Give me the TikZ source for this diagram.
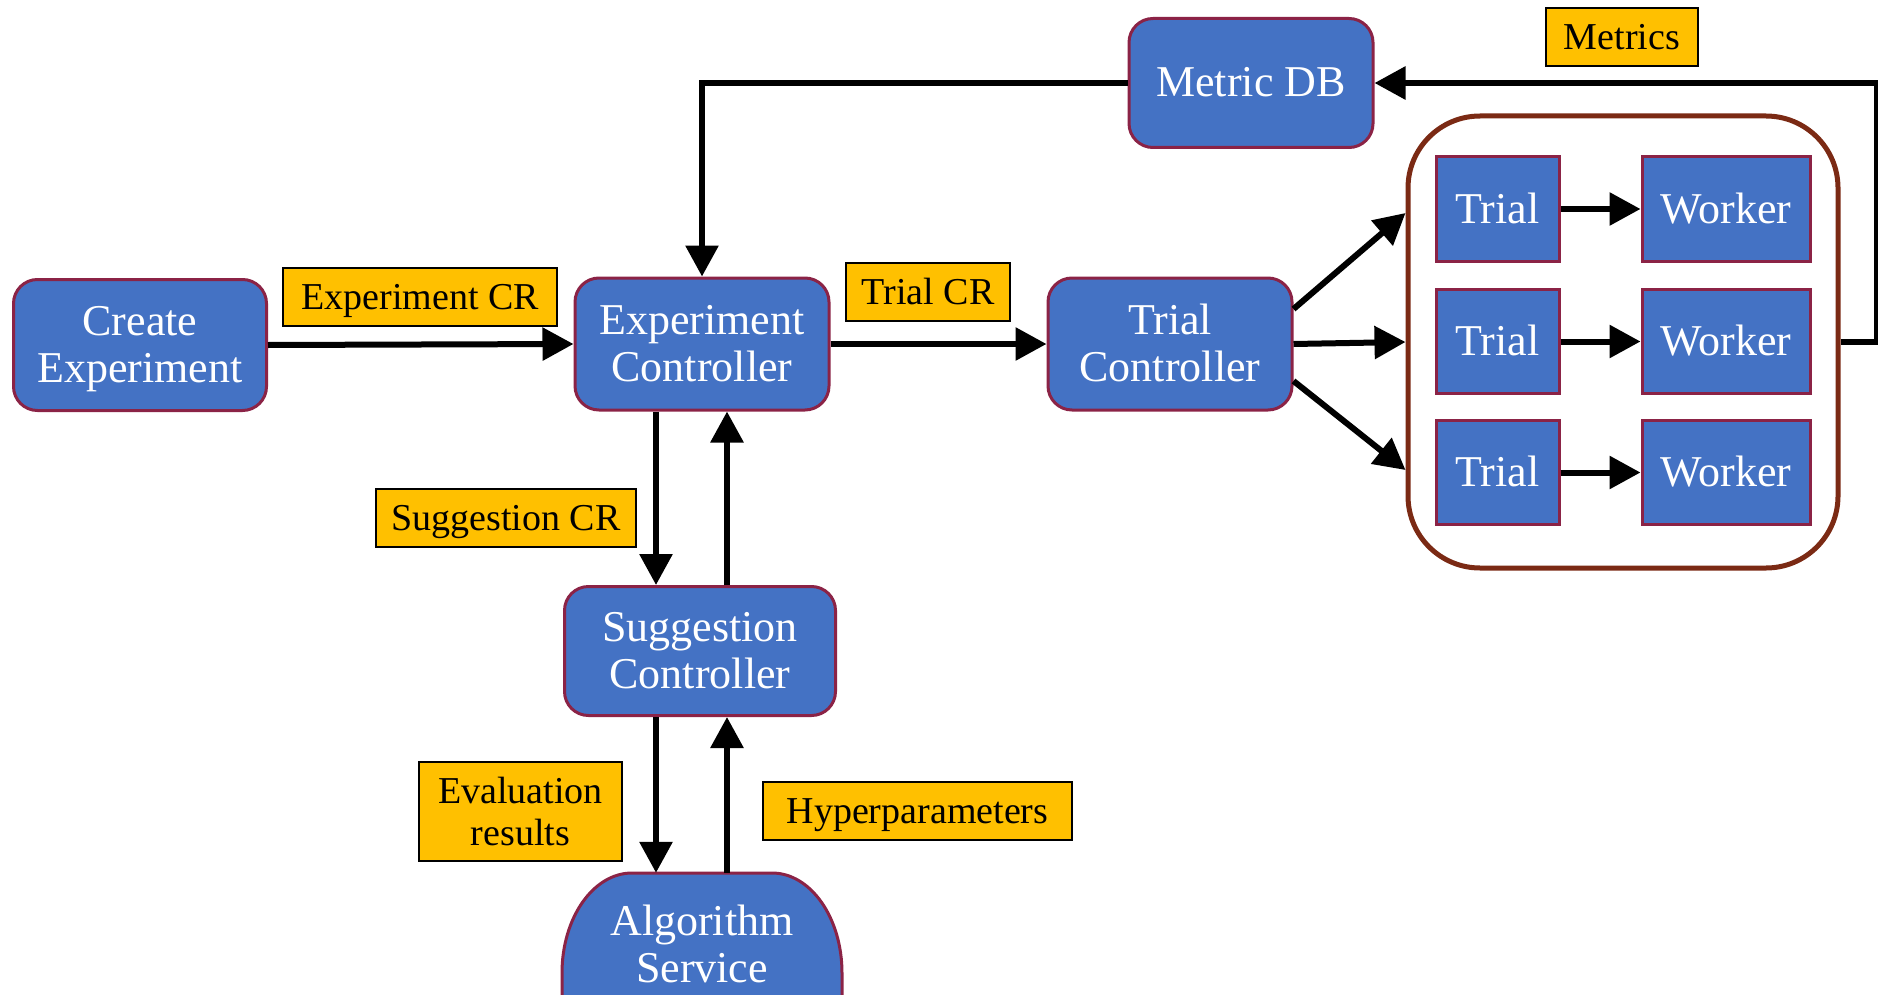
\documentclass[tikz,border=0pt]{standalone}
\usepackage{fontspec}
\setmainfont{Liberation Serif}
\usetikzlibrary{arrows.meta}
\definecolor{boxblue}{HTML}{4472C4}
\definecolor{boxedge}{HTML}{8B2346}
\definecolor{tagfill}{HTML}{FFC000}
\definecolor{pooledge}{HTML}{7B2A14}

\begin{document}
\begin{tikzpicture}[x=1pt,y=-1pt,
  % fixed text box heights keep every line centred the same way, descenders or not
  bigtext/.style={font=\fontsize{44}{47}\selectfont, text height=40pt, text depth=12pt},
  bigtwo/.style={text height=87pt},
  smalltext/.style={font=\fontsize{38}{42}\selectfont, text height=35pt, text depth=10pt},
  smalltwo/.style={text height=77pt},
  ctl/.style={draw=boxedge, line width=3pt, fill=boxblue, rounded corners=24pt,
    text=white, align=center, inner sep=0pt, bigtext},
  unit/.style={draw=boxedge, line width=3pt, fill=boxblue, text=white, inner sep=0pt,
    bigtext, minimum height=104pt},
  tag/.style={draw=black, line width=2pt, fill=tagfill, inner sep=0pt, align=center,
    smalltext, minimum height=58pt},
  arr/.style={line width=6pt, -{Triangle[length=31pt,width=32pt]}}
]
\useasboundingbox (0,0) rectangle (1878,995);
\clip (0,0) rectangle (1878,995);

% controllers
\node[ctl, bigtwo, minimum width=253pt, minimum height=131pt] (create) at (140,345) {Create\\Experiment};
\node[ctl, bigtwo, minimum width=254pt, minimum height=132pt] (expctl) at (702,344) {Experiment\\Controller};
\node[ctl, bigtwo, minimum width=244pt, minimum height=132pt] (trialctl) at (1170,344) {Trial\\Controller};
\node[ctl, minimum width=244pt, minimum height=129pt] (metricdb) at (1251,83) {Metric DB};
\node[ctl, bigtwo, minimum width=271pt, minimum height=129pt] (suggctl) at (700,651) {Suggestion\\Controller};

% algorithm service (runs off the lower edge)
\filldraw[fill=boxblue, draw=boxedge, line width=3pt]
  (562,1010) -- (562,973) arc[start angle=180,end angle=270,x radius=70,y radius=100]
  -- (772,873) arc[start angle=270,end angle=360,x radius=70,y radius=100]
  -- (842,1010) -- cycle;
\node[text=white, align=center, inner sep=0pt, bigtext, bigtwo,
  minimum width=280pt, minimum height=144pt] (algo) at (702,945) {Algorithm\\Service};

% trial / worker pool
\node[draw=pooledge, line width=5pt, rounded corners=72pt, minimum width=430pt,
  minimum height=452pt, inner sep=0pt] (pool) at (1623,342) {};
\foreach \i/\y in {1/209,2/341.5,3/472.5} {
  \node[unit, minimum width=123pt] (trial\i) at (1497.5,\y) {Trial};
  \node[unit, minimum width=168pt] (worker\i) at (1726,\y) {Worker};
  \draw[arr] (trial\i) -- (worker\i);
}

% labels
\node[tag, minimum width=274pt] (expcr) at (420,296.5) {Experiment CR};
\node[tag, minimum width=164pt] (trialcr) at (928,292) {Trial CR};
\node[tag, minimum width=152pt] (metrics) at (1622,37) {Metrics};
\node[tag, minimum width=260pt] (suggcr) at (506,518) {Suggestion CR};
\node[tag, smalltwo, minimum width=203pt, minimum height=99pt] (evalres) at (520.5,811.5) {Evaluation\\results};
\node[tag, minimum width=309pt] (hyper) at (917.5,811) {Hyperparameters};

% connectors
\draw[arr] (create.east) -- (expctl.west);
\draw[arr] (expctl.east) -- (trialctl.west);
\draw[arr] (metricdb.west) -| (expctl.north);
\draw[arr] (pool.east) -- ++(36,0) |- (metricdb.east);
\draw[arr] ([yshift=35pt]trialctl.east) -- ([yshift=129pt]pool.west);
\draw[arr] (trialctl.east) -- (pool.west);
\draw[arr] ([yshift=-37pt]trialctl.east) -- ([yshift=-128pt]pool.west);

\draw[arr] ([xshift=-46pt]expctl.south) -- ([xshift=-46pt]expctl.south |- suggctl.north);
\draw[arr] ([xshift=25pt]expctl.south |- suggctl.north) -- ([xshift=25pt]expctl.south);
\draw[arr] ([xshift=-46pt]expctl.south |- suggctl.south) -- ([xshift=-46pt]expctl.south |- algo.north);
\draw[arr] ([xshift=25pt]expctl.south |- algo.north) -- ([xshift=25pt]expctl.south |- suggctl.south);
\end{tikzpicture}
\end{document}
